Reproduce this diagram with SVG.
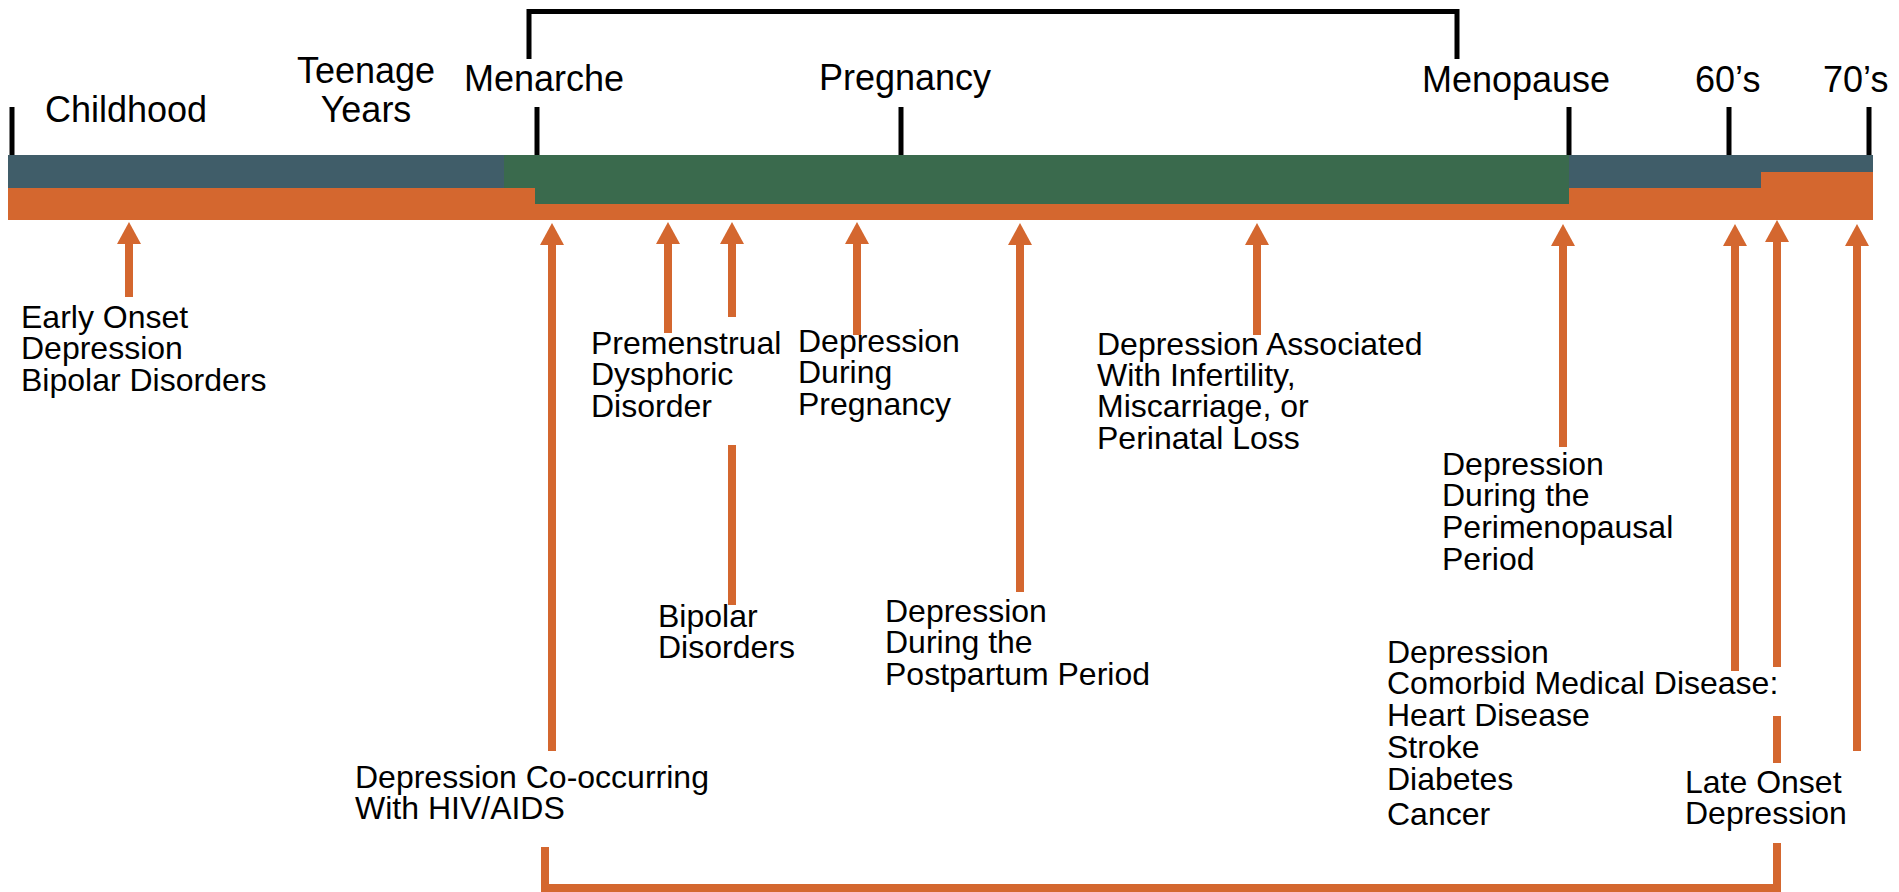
<svg xmlns="http://www.w3.org/2000/svg" width="1899" height="892" viewBox="0 0 1899 892">
<style>
text{font-family:"Liberation Sans",Arial,sans-serif;fill:#000}
.big{font-size:36px}
.lbl{font-size:32px}
.tick{stroke:#000;stroke-width:5;fill:none}
.arr{stroke:#D4672F;stroke-width:8;fill:none;marker-end:url(#ah)}
.seg{stroke:#D4672F;stroke-width:8;fill:none}
</style>
<defs>
<marker id="ah" markerUnits="userSpaceOnUse" viewBox="0 0 22 24" refX="0" refY="12" markerWidth="22" markerHeight="24" orient="auto">
<path d="M0,0 L22,12 L0,24 z" fill="#D4672F"/>
</marker>
</defs>
<rect width="1899" height="892" fill="#fff"/>
<g id="timeline-bar">
<rect x="8" y="155" width="1865" height="65" fill="#D4672F"/>
<rect x="8" y="155" width="496" height="33" fill="#405D69"/>
<rect x="1569" y="155" width="304" height="17" fill="#405D69"/>
<rect x="1569" y="172" width="192" height="16" fill="#405D69"/>
<rect x="504" y="155" width="1065" height="33" fill="#3A6A4D"/>
<rect x="535" y="188" width="1034" height="16" fill="#3A6A4D"/>
</g>
<g id="ticks">
<line class="tick" x1="12" y1="107" x2="12" y2="155"/>
<line class="tick" x1="537" y1="107" x2="537" y2="155"/>
<line class="tick" x1="901" y1="107" x2="901" y2="155"/>
<line class="tick" x1="1569" y1="107" x2="1569" y2="155"/>
<line class="tick" x1="1729" y1="107" x2="1729" y2="155"/>
<line class="tick" x1="1869" y1="107" x2="1869" y2="155"/>
<path class="tick" d="M529,59 V11.5 H1457 V59" stroke-width="6"/>
</g>
<g id="stage-labels">
<text class="big" x="45" y="122">Childhood</text>
<text class="big" x="366" y="83" text-anchor="middle">Teenage</text>
<text class="big" x="366" y="122" text-anchor="middle">Years</text>
<text class="big" x="464" y="91">Menarche</text>
<text class="big" x="819" y="90">Pregnancy</text>
<text class="big" x="1422" y="92">Menopause</text>
<text class="big" x="1695" y="92">60’s</text>
<text class="big" x="1823" y="92">70’s</text>
</g>
<g id="connectors">
<line class="arr" x1="129" y1="297" x2="129" y2="244"/>
<line class="arr" x1="552" y1="751" x2="552" y2="245"/>
<line class="arr" x1="668" y1="333" x2="668" y2="244"/>
<line class="arr" x1="732" y1="317" x2="732" y2="244"/>
<line class="seg" x1="732" y1="445" x2="732" y2="605"/>
<line class="arr" x1="857" y1="335" x2="857" y2="244"/>
<line class="arr" x1="1020" y1="592" x2="1020" y2="245"/>
<line class="arr" x1="1257" y1="335" x2="1257" y2="245"/>
<line class="arr" x1="1563" y1="447" x2="1563" y2="246"/>
<line class="arr" x1="1735" y1="671" x2="1735" y2="246"/>
<line class="arr" x1="1777" y1="667" x2="1777" y2="242"/>
<line class="seg" x1="1777" y1="716" x2="1777" y2="763"/>
<line class="arr" x1="1857" y1="751" x2="1857" y2="246"/>
<path class="seg" d="M545,847 V888 H1777 V843" stroke-width="7"/>
</g>
<g id="node-early-onset">
<text class="lbl" x="21" y="328">Early Onset</text>
<text class="lbl" x="21" y="359">Depression</text>
<text class="lbl" x="21" y="391">Bipolar Disorders</text>
</g>
<g id="node-hiv">
<text class="lbl" x="355" y="788">Depression Co-occurring</text>
<text class="lbl" x="355" y="819">With HIV/AIDS</text>
</g>
<g id="node-pmdd">
<text class="lbl" x="591" y="354">Premenstrual</text>
<text class="lbl" x="591" y="385">Dysphoric</text>
<text class="lbl" x="591" y="417">Disorder</text>
</g>
<g id="node-bipolar">
<text class="lbl" x="658" y="627">Bipolar</text>
<text class="lbl" x="658" y="658">Disorders</text>
</g>
<g id="node-pregnancy">
<text class="lbl" x="798" y="352">Depression</text>
<text class="lbl" x="798" y="383">During</text>
<text class="lbl" x="798" y="415">Pregnancy</text>
</g>
<g id="node-postpartum">
<text class="lbl" x="885" y="622">Depression</text>
<text class="lbl" x="885" y="653">During the</text>
<text class="lbl" x="885" y="685">Postpartum Period</text>
</g>
<g id="node-infertility">
<text class="lbl" x="1097" y="355">Depression Associated</text>
<text class="lbl" x="1097" y="386">With Infertility,</text>
<text class="lbl" x="1097" y="417">Miscarriage, or</text>
<text class="lbl" x="1097" y="449">Perinatal Loss</text>
</g>
<g id="node-perimenopause">
<text class="lbl" x="1442" y="475">Depression</text>
<text class="lbl" x="1442" y="506">During the</text>
<text class="lbl" x="1442" y="538">Perimenopausal</text>
<text class="lbl" x="1442" y="570">Period</text>
</g>
<g id="node-comorbid">
<text class="lbl" x="1387" y="663">Depression</text>
<text class="lbl" x="1387" y="694">Comorbid Medical Disease:</text>
<text class="lbl" x="1387" y="726">Heart Disease</text>
<text class="lbl" x="1387" y="758">Stroke</text>
<text class="lbl" x="1387" y="790">Diabetes</text>
<text class="lbl" x="1387" y="825">Cancer</text>
</g>
<g id="node-late-onset">
<text class="lbl" x="1685" y="793">Late Onset</text>
<text class="lbl" x="1685" y="824">Depression</text>
</g>
</svg>
